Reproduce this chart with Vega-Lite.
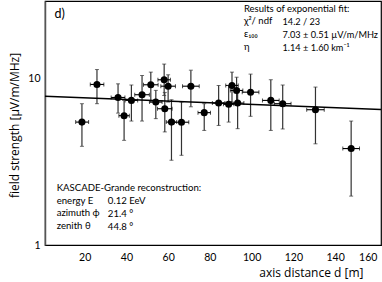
{
  "$schema": "https://vega.github.io/schema/vega-lite/v6.json",
  "width": 336,
  "height": 244,
  "autosize": {"type": "none"},
  "padding": {"left": 45, "top": 1, "right": 1, "bottom": 37},
  "background": "white",
  "config": {
    "view": {"stroke": "#000", "strokeWidth": 1.2},
    "font": "Open Sans"
  },
  "datasets": {
    "pts": [
      {"d": 18.7, "v": 5.5, "dlo": 15.7, "dhi": 21.9, "vlo": 3.93, "vhi": 7.1},
      {"d": 25.9, "v": 9.27, "dlo": 22.7, "dhi": 29.2, "vlo": 7.1, "vhi": 11.4},
      {"d": 36.0, "v": 7.74, "dlo": 32.7, "dhi": 39.3, "vlo": 6.23, "vhi": 9.35},
      {"d": 38.9, "v": 6.01, "dlo": 36.4, "dhi": 41.4, "vlo": 4.27, "vhi": 7.43},
      {"d": 42.4, "v": 7.43, "dlo": 39.4, "dhi": 45.4, "vlo": 5.58, "vhi": 9.2},
      {"d": 47.5, "v": 8.04, "dlo": 44.0, "dhi": 51.0, "vlo": 5.58, "vhi": 10.5},
      {"d": 51.7, "v": 9.23, "dlo": 48.2, "dhi": 55.2, "vlo": 7.25, "vhi": 11.0},
      {"d": 54.1, "v": 7.26, "dlo": 51.1, "dhi": 57.1, "vlo": 5.77, "vhi": 8.54},
      {"d": 58.1, "v": 9.89, "dlo": 55.1, "dhi": 61.1, "vlo": 7.95, "vhi": 12.3},
      {"d": 60.0, "v": 9.05, "dlo": 56.5, "dhi": 63.5, "vlo": 7.26, "vhi": 10.6},
      {"d": 58.4, "v": 6.62, "dlo": 54.9, "dhi": 61.9, "vlo": 4.8, "vhi": 8.3},
      {"d": 61.6, "v": 5.5, "dlo": 59.1, "dhi": 64.1, "vlo": 3.24, "vhi": 7.5},
      {"d": 66.4, "v": 5.49, "dlo": 62.9, "dhi": 69.9, "vlo": 3.47, "vhi": 7.26},
      {"d": 70.9, "v": 9.05, "dlo": 66.9, "dhi": 74.9, "vlo": 6.8, "vhi": 11.3},
      {"d": 77.3, "v": 6.27, "dlo": 74.3, "dhi": 80.3, "vlo": 4.9, "vhi": 7.1},
      {"d": 84.2, "v": 7.16, "dlo": 81.2, "dhi": 87.2, "vlo": 5.25, "vhi": 9.14},
      {"d": 89.0, "v": 7.04, "dlo": 86.5, "dhi": 91.5, "vlo": 5.5, "vhi": 9.14},
      {"d": 90.6, "v": 9.14, "dlo": 87.6, "dhi": 93.6, "vlo": 7.26, "vhi": 11.0},
      {"d": 92.8, "v": 8.53, "dlo": 89.8, "dhi": 95.8, "vlo": 7.1, "vhi": 10.25},
      {"d": 93.3, "v": 7.16, "dlo": 90.3, "dhi": 96.3, "vlo": 5.02, "vhi": 8.73},
      {"d": 99.5, "v": 8.33, "dlo": 95.5, "dhi": 103.5, "vlo": 5.96, "vhi": 10.7},
      {"d": 109.2, "v": 7.43, "dlo": 105.2, "dhi": 113.2, "vlo": 4.9, "vhi": 9.9},
      {"d": 114.9, "v": 7.1, "dlo": 110.9, "dhi": 118.9, "vlo": 5.0, "vhi": 9.2},
      {"d": 130.6, "v": 6.53, "dlo": 126.4, "dhi": 134.8, "vlo": 4.07, "vhi": 8.94},
      {"d": 147.7, "v": 3.81, "dlo": 143.7, "dhi": 151.7, "vlo": 1.97, "vhi": 5.58}
    ],
    "fit": [
      {"d": 1, "v": 7.87},
      {"d": 162, "v": 6.55}
    ]
  },
  "encoding": {
    "x": {
      "type": "quantitative",
      "scale": {"domain": [1, 162], "nice": false, "zero": false},
      "axis": {
        "title": "axis distance d [m]",
        "values": [4,8,12,16,20,24,28,32,36,40,44,48,52,56,60,64,68,72,76,80,84,88,92,96,100,104,108,112,116,120,124,128,132,136,140,144,148,152,156,160],
        "labelExpr": "datum.value % 20 == 0 ? datum.label : ''",
        "labelFlush": 6,
        "tickSize": 0,
        "tickColor": "#333",
        "tickWidth": 1,
        "domainColor": "#000",
        "domainWidth": 1.2,
        "grid": false,
        "labelFontSize": 10.5,
        "labelColor": "#000",
        "labelPadding": 7,
        "labelFont": "Lato",
        "titleFont": "Open Sans",
        "titleFontSize": 12,
        "titleFontWeight": "normal",
        "titleColor": "#000",
        "titleAnchor": null,
        "titleAlign": "right",
        "titleBaseline": "middle",
        "titleX": 318,
        "titleY": 27,
        "encode": {"ticks": {"update": {"y2": {"signal": "datum.value % 20 == 0 ? -9 : -4.5"}}}}
      }
    },
    "y": {
      "type": "quantitative",
      "scale": {"type": "log", "domain": [1, 29.5], "nice": false},
      "axis": {
        "title": "field strength [µV/m/MHz]",
        "values": [1,2,3,4,5,6,7,8,9,10,20],
        "labelExpr": "(datum.value == 1 || datum.value == 10) ? format(datum.value, 'd') : ''",
        "tickSize": 0,
        "tickColor": "#555",
        "tickWidth": 1,
        "domainColor": "#555",
        "domainWidth": 1.5,
        "grid": false,
        "labelFontSize": 10.5,
        "labelColor": "#000",
        "labelPadding": 5,
        "labelFont": "Lato",
        "titleFont": "Open Sans",
        "titleFontSize": 12,
        "titleFontWeight": "normal",
        "titleColor": "#000",
        "titleAnchor": null,
        "titleAngle": 270,
        "titleAlign": "center",
        "titleBaseline": "middle",
        "titleX": -31,
        "titleY": 124,
        "encode": {"ticks": {"update": {"x2": {"signal": "(datum.value == 1 || datum.value == 10) ? 10 : 5"}}}}
      }
    }
  },
  "layer": [
    {
      "data": {"name": "pts"},
      "mark": {"type": "rule", "color": "#333", "strokeWidth": 1.2},
      "encoding": {"x": {"field": "d"}, "y": {"field": "vlo"}, "y2": {"field": "vhi"}}
    },
    {
      "data": {"name": "pts"},
      "mark": {"type": "rule", "color": "#000", "strokeWidth": 1.1},
      "encoding": {"x": {"field": "dlo"}, "x2": {"field": "dhi"}, "y": {"field": "v"}}
    },
    {
      "data": {"name": "pts"},
      "mark": {"type": "tick", "orient": "vertical", "color": "#000", "size": 4, "thickness": 1},
      "encoding": {"x": {"field": "dlo"}, "y": {"field": "v"}}
    },
    {
      "data": {"name": "pts"},
      "mark": {"type": "tick", "orient": "vertical", "color": "#000", "size": 4, "thickness": 1},
      "encoding": {"x": {"field": "dhi"}, "y": {"field": "v"}}
    },
    {
      "data": {"name": "pts"},
      "mark": {"type": "tick", "orient": "horizontal", "color": "#333", "size": 4, "thickness": 1},
      "encoding": {"x": {"field": "d"}, "y": {"field": "vlo"}}
    },
    {
      "data": {"name": "pts"},
      "mark": {"type": "tick", "orient": "horizontal", "color": "#333", "size": 4, "thickness": 1},
      "encoding": {"x": {"field": "d"}, "y": {"field": "vhi"}}
    },
    {
      "data": {"name": "fit"},
      "mark": {"type": "line", "color": "#000", "strokeWidth": 1.5},
      "encoding": {"x": {"field": "d"}, "y": {"field": "v"}}
    },
    {
      "data": {"name": "pts"},
      "mark": {"type": "circle", "color": "#000", "opacity": 1, "size": 50},
      "encoding": {"x": {"field": "d"}, "y": {"field": "v"}}
    },
    {
      "data": {"values": [{}]},
      "mark": {"type": "text", "fontSize": 12.5, "align": "left", "baseline": "middle", "color": "#000", "font": "Lato"},
      "encoding": {"x": {"datum": 5.6}, "y": {"datum": 24.7}, "text": {"value": "d)"}}
    },
    {
      "data": {"values": [{}]},
      "mark": {"type": "text", "fontSize": 9.5, "align": "left", "baseline": "top", "lineHeight": 12.7, "color": "#000", "font": "Lato"},
      "encoding": {"x": {"datum": 96.3}, "y": {"datum": 28.4}, "text": {"value": ["Results of exponential fit:", "χ²/ ndf", "ε₁₀₀", "η"]}}
    },
    {
      "data": {"values": [{}]},
      "mark": {"type": "text", "fontSize": 9.2, "align": "left", "baseline": "top", "lineHeight": 12.7, "color": "#000", "font": "Lato"},
      "encoding": {"x": {"datum": 114.8}, "y": {"datum": 23.2}, "text": {"value": ["14.2 / 23", "7.03 ± 0.51 µV/m/MHz", "1.14 ± 1.60 km⁻¹"]}}
    },
    {
      "data": {"values": [{}]},
      "mark": {"type": "text", "fontSize": 9.6, "align": "left", "baseline": "top", "lineHeight": 12.7, "color": "#000", "font": "Lato"},
      "encoding": {"x": {"datum": 6.6}, "y": {"datum": 2.36}, "text": {"value": ["KASCADE-Grande reconstruction:", "energy E", "azimuth ϕ", "zenith θ"]}}
    },
    {
      "data": {"values": [{}]},
      "mark": {"type": "text", "fontSize": 9.6, "align": "left", "baseline": "top", "lineHeight": 12.7, "color": "#000", "font": "Lato"},
      "encoding": {"x": {"datum": 31.1}, "y": {"datum": 1.97}, "text": {"value": ["0.12 EeV", "21.4 °", "44.8 °"]}}
    }
  ]
}
